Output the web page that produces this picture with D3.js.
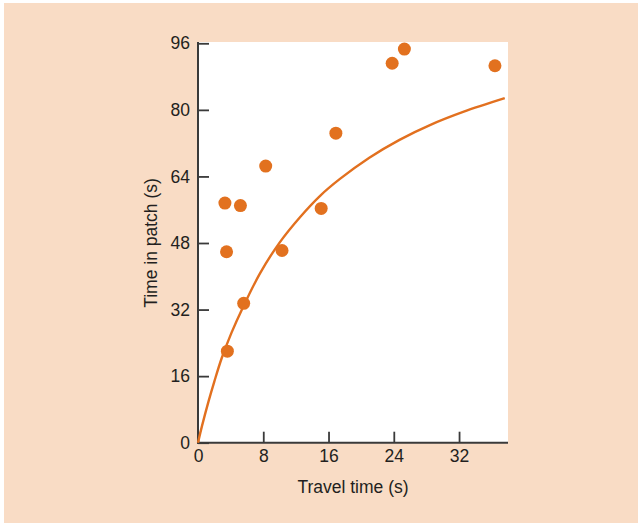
<!DOCTYPE html>
<html>
<head>
<meta charset="utf-8">
<script src="https://cdn.jsdelivr.net/npm/d3@7"></script>
<style>
  html, body { margin: 0; padding: 0; background: #ffffff; }
  svg { display: block; }
  text { font-family: "Liberation Sans", Arial, Helvetica, sans-serif; fill: #231f20; }
</style>
</head>
<body>
<svg id="chart" width="638" height="523"></svg>
<script>
// Observed points: travel time (s) vs time in patch (s)
const travelTime = [3.3, 5.2, 3.5, 3.6, 5.6, 8.3, 10.3, 15.1, 16.9, 23.8, 25.3, 36.4];
const patchTime  = [57.6, 57.0, 45.9, 22.0, 33.5, 66.5, 46.2, 56.3, 74.4, 91.2, 94.6, 90.6];

// Fitted curve, points
const curveX = [0, 0.5, 1.3, 2.0, 2.9, 4.1, 5.4, 7.6, 10.0, 12.5, 15.0, 17.4, 21.0, 24.7, 28.5, 32.5, 37.6];
const curveY = [0, 4.1, 10.0, 14.7, 20.3, 26.4, 32.1, 40.7, 48.1, 54.2, 59.4, 63.4, 68.5, 72.8, 76.4, 79.5, 82.8];

const xTicks = [0, 8, 16, 24, 32];
const yTicks = [0, 16, 32, 48, 64, 80, 96];
const xTitle = "Travel time (s)";
const yTitle = "Time in patch (s)";

const svg = d3.select("#chart");
const W = 638, H = 523;

// panel background
svg.append("rect").attr("x", 4).attr("y", 3).attr("width", W - 4).attr("height", H - 3)
  .attr("fill", "#f9dcc5");

const x = d3.scaleLinear().domain([0, 38]).range([198, 508]);
const y = d3.scaleLinear().domain([0, 96]).range([442.7, 43.3]);

// plot area
svg.append("rect").attr("x", 198).attr("y", 42).attr("width", 508 - 198).attr("height", 442.7 - 42)
  .attr("fill", "#ffffff");

const axisColor = "#3a3a3a";

// X axis
const gx = svg.append("g").attr("transform", `translate(0,${y(0)})`)
  .call(d3.axisBottom(x).tickValues(xTicks).tickSize(-11).tickPadding(4).tickFormat(d3.format("d")));
gx.select(".domain").remove();
gx.selectAll(".tick line").attr("stroke", axisColor).attr("stroke-width", 1.8);
gx.selectAll(".tick text").attr("font-size", 17.5).attr("dy", "0.9em").attr("fill", "#231f20");
svg.append("line").attr("x1", x(0) - 1).attr("x2", 508).attr("y1", y(0)).attr("y2", y(0))
  .attr("stroke", axisColor).attr("stroke-width", 2);

// Y axis
const gy = svg.append("g").attr("transform", `translate(${x(0)},0)`)
  .call(d3.axisLeft(y).tickValues(yTicks).tickSize(-11).tickPadding(8).tickFormat(d3.format("d")));
gy.select(".domain").remove();
gy.selectAll(".tick line").attr("stroke", axisColor).attr("stroke-width", 1.8);
gy.selectAll(".tick text").attr("font-size", 17.5).attr("fill", "#231f20");
svg.append("line").attr("x1", x(0)).attr("x2", x(0)).attr("y1", 42).attr("y2", y(0) + 1)
  .attr("stroke", axisColor).attr("stroke-width", 2);

// Curve
const curvePts = curveX.map((d, i) => [d, curveY[i]]);
svg.append("path").datum(curvePts)
  .attr("fill", "none").attr("stroke", "#e2701f").attr("stroke-width", 2.4)
  .attr("d", d3.line().x(d => x(d[0])).y(d => y(d[1])).curve(d3.curveCatmullRom.alpha(0.5)));

// Points
svg.append("g").selectAll("circle").data(travelTime.map((d, i) => [d, patchTime[i]]))
  .join("circle")
  .attr("cx", d => x(d[0])).attr("cy", d => y(d[1])).attr("r", 6.5)
  .attr("fill", "#e2711f");

// Axis titles
svg.append("text").attr("x", 353).attr("y", 493).attr("text-anchor", "middle")
  .attr("font-size", 17.5).text(xTitle);
svg.append("text").attr("transform", `translate(157,243) rotate(-90)`).attr("text-anchor", "middle")
  .attr("font-size", 17.5).text(yTitle);
</script>
</body>
</html>
